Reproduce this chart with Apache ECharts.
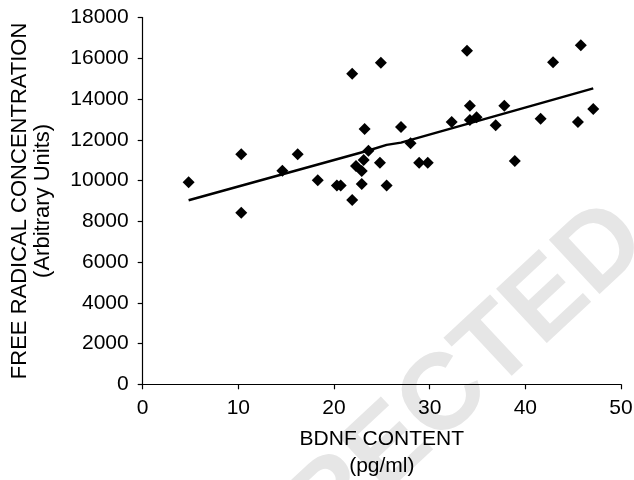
<!DOCTYPE html>
<html>
<head>
<meta charset="utf-8">
<script src="https://cdn.jsdelivr.net/npm/echarts@6/dist/echarts.min.js"></script>
<style>
html,body{margin:0;padding:0;background:#fff;}
#chart{width:634px;height:480px;}
</style>
</head>
<body>
<div id="chart"></div>
<script>
// BDNF content (pg/ml) and free radical concentration (arbitrary units)
var bdnf = [4.8, 10.3, 10.3, 14.6, 16.2, 18.3, 20.3, 20.7, 21.9, 21.9, 22.3, 22.9, 22.9, 23.1, 23.2, 23.6, 24.8, 24.9, 25.5, 27.0, 28.0, 28.9, 29.8, 32.3, 33.9, 34.2, 34.2, 34.9, 36.9, 37.8, 38.9, 41.6, 42.9, 45.5, 45.8, 47.1];
var radical = [9910, 11290, 8420, 10480, 11290, 10010, 9750, 9750, 9040, 15240, 10710, 10470, 9830, 11010, 12530, 11460, 10870, 15780, 9750, 12630, 11830, 10870, 10870, 12870, 16370, 13670, 12970, 13100, 12710, 13670, 10960, 13030, 15800, 12870, 16640, 13510];
// Trend line points
var trendX = [4.8, 23.6, 25.5, 27.0, 47.1];
var trendY = [9030, 11470, 11750, 11860, 14520];
var xTicks = [0, 10, 20, 30, 40, 50];
var yTicks = [0, 2000, 4000, 6000, 8000, 10000, 12000, 14000, 16000, 18000];

var scatterData = bdnf.map(function (x, i) { return [x, radical[i]]; });
var trendData = trendX.map(function (x, i) { return [x, trendY[i]]; });

var FONT = '"Liberation Sans", Arial, Helvetica, sans-serif';
var chart = echarts.init(document.getElementById('chart'), null, {renderer: 'canvas'});
chart.setOption({
  backgroundColor: '#ffffff',
  animation: false,
  graphic: [{
    type: 'text',
    z: -10,
    x: 631,
    y: 224,
    rotation: 43 * Math.PI / 180,
    silent: true,
    style: {
      text: 'UNCORRECTED',
      align: 'right',
      verticalAlign: 'middle',
      font: 'bold 108px ' + FONT,
      fill: '#e6e6e6'
    }
  }],
  grid: {
    left: 142.7,
    right: 13,
    top: 17.5,
    bottom: 95.7,
    containLabel: false,
    outerBoundsMode: 'none'
  },
  xAxis: {
    type: 'value',
    min: xTicks[0],
    max: xTicks[xTicks.length - 1],
    interval: 10,
    name: 'BDNF CONTENT\n(pg/ml)',
    nameLocation: 'middle',
    nameGap: 41,
    nameTextStyle: {color: '#000', fontFamily: FONT, fontSize: 21, lineHeight: 27},
    axisLine: {show: true, lineStyle: {color: '#000', width: 1.2}},
    axisTick: {show: true, inside: false, length: 5, lineStyle: {color: '#000', width: 1.2}},
    axisLabel: {color: '#000', fontFamily: FONT, fontSize: 21, margin: 13},
    splitLine: {show: false}
  },
  yAxis: {
    type: 'value',
    min: yTicks[0],
    max: yTicks[yTicks.length - 1],
    interval: 2000,
    name: 'FREE RADICAL CONCENTRATION\n(Arbitrary Units)',
    nameLocation: 'middle',
    nameGap: 88,
    nameRotate: 90,
    nameTextStyle: {color: '#000', fontFamily: FONT, fontSize: 22, lineHeight: 23},
    axisLine: {show: true, lineStyle: {color: '#000', width: 1.2}},
    axisTick: {show: true, inside: false, length: 5, lineStyle: {color: '#000', width: 1.2}},
    axisLabel: {
      color: '#000', fontFamily: FONT, fontSize: 21, margin: 14,
      formatter: function (v) { return String(v); }
    },
    splitLine: {show: false}
  },
  series: [{
    type: 'scatter',
    data: scatterData,
    symbol: 'diamond',
    symbolSize: [12, 12],
    itemStyle: {color: '#000', opacity: 1},
    z: 3
  }, {
    type: 'line',
    data: trendData,
    showSymbol: false,
    symbol: 'none',
    smooth: false,
    lineStyle: {color: '#000', width: 2.5},
    z: 4
  }]
});
</script>
</body>
</html>
